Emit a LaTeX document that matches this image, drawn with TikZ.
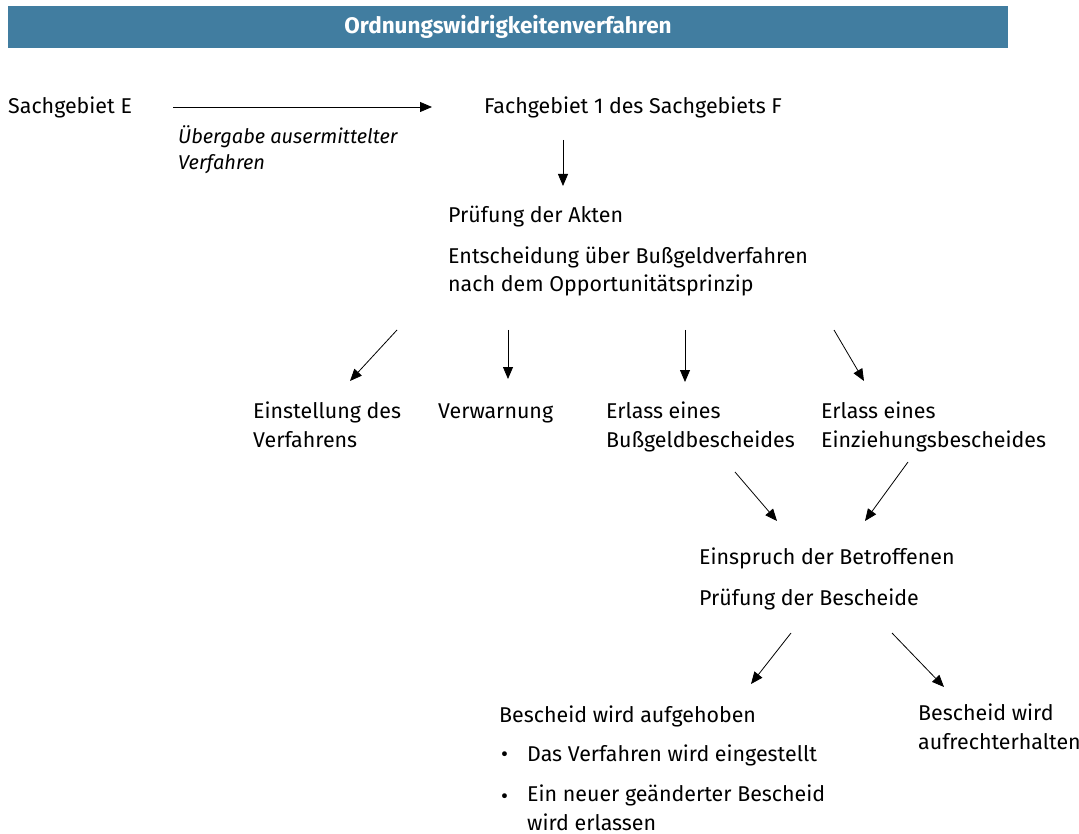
\documentclass[tikz,border=0pt]{standalone}
\usepackage{fontspec}
\setmainfont{Fira Sans}
\usetikzlibrary{arrows.meta}
\definecolor{kopfblau}{RGB}{65,125,160}
\tikzset{
  txt/.style={anchor=base west,inner sep=0pt,align=left,font=\fontsize{21.4}{28.5}\selectfont},
  pfeil/.style={->,line width=0.8pt}
}
\begin{document}
\begin{tikzpicture}[x=1pt,y=-1pt,>={Triangle[length=12pt,width=10pt]}]
\useasboundingbox (0,0) rectangle (1079,834);
\fill[kopfblau] (8,6) rectangle (1008,48);
\node[font=\bfseries\fontsize{22.5}{24}\selectfont,text=white] (titel) at (508,27) {Ordnungswidrigkeitenverfahren};

\node[txt] (sachE) at (8,114) {Sachgebiet E};
\node[txt,font=\itshape\fontsize{20}{26}\selectfont] (uebergabe) at (178,170) {Übergabe ausermittelter\\Verfahren};
\node[txt] (fachF) at (484,114) {Fachgebiet 1 des Sachgebiets F};
\node[txt] (pruefA) at (448,223) {Prüfung der Akten};
\node[txt] (entsch) at (448,292) {Entscheidung über Bußgeldverfahren\\nach dem Opportunitätsprinzip};

\node[txt] (einst) at (253,447) {Einstellung des\\Verfahrens};
\node[txt] (verw) at (438,418) {Verwarnung};
\node[txt] (bussg) at (606,447) {Erlass eines\\Bußgeldbescheides};
\node[txt] (einz) at (821,447) {Erlass eines\\Einziehungsbescheides};

\node[txt] (einspr) at (699,564) {Einspruch der Betroffenen};
\node[txt] (pruefB) at (699,605) {Prüfung der Bescheide};

\node[txt] (aufgeh) at (499,722) {Bescheid wird aufgehoben};
\node[txt] (pkt1) at (501,761) {•};
\node[txt] (eingest) at (527,761) {Das Verfahren wird eingestellt};
\node[txt] (pkt2) at (501,803) {•};
\node[txt] (neu) at (527,830) {Ein neuer geänderter Bescheid\\wird erlassen};
\node[txt] (aufrecht) at (918,749) {Bescheid wird\\aufrechterhalten};

\coordinate (uebA) at (173,107);
\coordinate (uebE) at (432,107);
\coordinate (fachA) at (563,140);
\coordinate (fachE) at (563,186);
\coordinate (einstA) at (397,330);
\coordinate (einstE) at (350,381);
\coordinate (verwA) at (508,330);
\coordinate (verwE) at (508,379);
\coordinate (bussgA) at (685,330);
\coordinate (bussgE) at (685,382);
\coordinate (einzA) at (834,330);
\coordinate (einzE) at (864,381);
\coordinate (einsprL) at (735,472);
\coordinate (einsprR) at (908,462);
\coordinate (einsprE1) at (777,521);
\coordinate (einsprE2) at (865,521);
\coordinate (aufgehA) at (791,633);
\coordinate (aufgehE) at (751,684);
\coordinate (aufrechtA) at (892,633);
\coordinate (aufrechtE) at (944,687);

\draw[pfeil] (uebA) -- (uebE);
\draw[pfeil] (fachA) -- (fachE);
\draw[pfeil] (einstA) -- (einstE);
\draw[pfeil] (verwA) -- (verwE);
\draw[pfeil] (bussgA) -- (bussgE);
\draw[pfeil] (einzA) -- (einzE);
\draw[pfeil] (einsprL) -- (einsprE1);
\draw[pfeil] (einsprR) -- (einsprE2);
\draw[pfeil] (aufgehA) -- (aufgehE);
\draw[pfeil] (aufrechtA) -- (aufrechtE);
\end{tikzpicture}
\end{document}
